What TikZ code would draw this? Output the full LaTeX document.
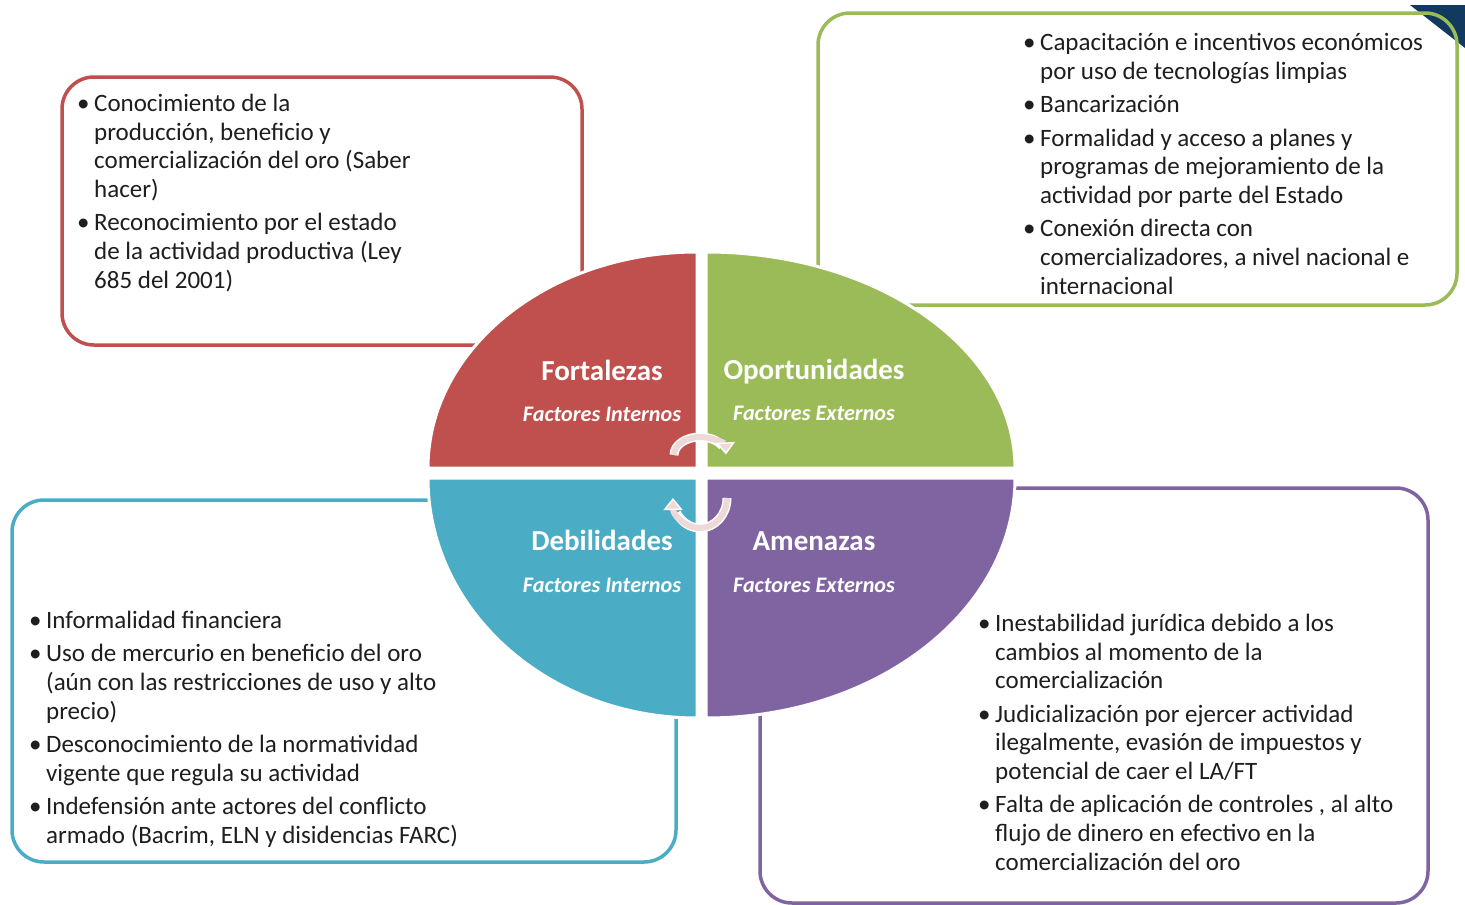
\documentclass[tikz,border=0pt]{standalone}
\usepackage{fontspec}
\setmainfont{Carlito}
\usetikzlibrary{arrows.meta}
\definecolor{cred}{HTML}{C0504D}
\definecolor{cgreen}{HTML}{9BBB59}
\definecolor{cteal}{HTML}{4BACC6}
\definecolor{cpurple}{HTML}{8064A2}
\definecolor{cpink}{HTML}{EFD9D8}
\definecolor{cnavy}{HTML}{123A5F}
\definecolor{ctext}{HTML}{1E1E1E}
\newcommand\bl{\makebox[17pt][l]{•}}
\newcommand\cl{\hspace*{17pt}}
\begin{document}
\begin{tikzpicture}[x=1pt,y=-1pt,
  box/.style={line width=3.5pt, rounded corners=32pt},
  quad/.style={draw=white, line width=3pt},
  bodytext/.style={anchor=base west, align=left, inner sep=0pt, text=ctext,
    font=\fontsize{25}{28.7}\selectfont},
  head/.style={anchor=base, inner sep=0pt, text=white, font=\fontsize{29}{32}\selectfont\bfseries},
  sub/.style={anchor=base, inner sep=0pt, text=white, font=\fontsize{22.2}{24}\selectfont\bfseries\itshape},
  shaft/.style={line width=6pt, cpink},
  shaftbg/.style={line width=9pt, white},
  tipa/.style={-{Triangle[length=12pt,width=19pt,fill=cpink,color=white,line width=1.5pt]}}
]
\useasboundingbox (0,0) rectangle (1465,905);
\fill[white] (0,0) rectangle (1465,905);
\fill[cnavy] (1410,5) -- (1465,5) -- (1465,48) -- cycle;

% text boxes
\draw[box, cred] (62,77) rectangle (582,345);
\draw[box, cgreen] (818,13) rectangle (1457,305);
\draw[box, cteal] (12,500) rectangle (676,862);
\draw[box, cpurple] (760,488) rectangle (1428,903);

% quadrants
\filldraw[quad, fill=cred] (697,468) -- (428,468) arc[start angle=180, end angle=270, x radius=269, y radius=216] -- cycle;
\filldraw[quad, fill=cgreen] (706,468) -- (1015,468) arc[start angle=0, end angle=-90, x radius=309, y radius=216] -- cycle;
\filldraw[quad, fill=cteal] (697,478) -- (428,478) arc[start angle=180, end angle=90, x radius=269, y radius=240] -- cycle;
\filldraw[quad, fill=cpurple] (706,478) -- (1015,478) arc[start angle=0, end angle=90, x radius=309, y radius=240] -- cycle;

% headings
\node[head] (fo) at (602,380) {Fortalezas};
\node[sub] (fos) at (602,421) {Factores Internos};
\node[head] (op) at (814,379) {Oportunidades};
\node[sub] (ops) at (814,420) {Factores Externos};
\node[head] (de) at (602,550) {Debilidades};
\node[sub] (des) at (602,592) {Factores Internos};
\node[head] (am) at (814,550) {Amenazas};
\node[sub] (ams) at (814,592) {Factores Externos};

% cycle arrows
\coordinate (ta) at (674,455);
\coordinate (ba) at (727,498);
\draw[shaftbg] (ta) arc[start angle=180, end angle=330, x radius=26, y radius=18];
\draw[shaft, tipa] (ta) arc[start angle=180, end angle=358, x radius=26, y radius=18];
\draw[shaftbg] (ba) arc[start angle=0, end angle=150, x radius=27, y radius=30];
\draw[shaft, tipa] (ba) arc[start angle=0, end angle=180, x radius=27, y radius=30];

% texts (anchored at the baseline of their last line)
\node[bodytext] (tf) at (77,288) {\bl Conocimiento de la\\
\cl producción, beneficio y\\
\cl comercialización del oro (Saber\\
\cl hacer)\\[4.5pt]
\bl Reconocimiento por el estado\\
\cl de la actividad productiva (Ley\\
\cl 685 del 2001)};

\node[bodytext] (to) at (1023,294) {\bl Capacitación e incentivos económicos\\
\cl por uso de tecnologías limpias\\[4.5pt]
\bl Bancarización\\[4.5pt]
\bl Formalidad y acceso a planes y\\
\cl programas de mejoramiento de la\\
\cl actividad por parte del Estado\\[4.5pt]
\bl Conexión directa con\\
\cl comercializadores, a nivel nacional e\\
\cl internacional};

\node[bodytext] (td) at (29,843) {\bl Informalidad financiera\\[4.5pt]
\bl Uso de mercurio en beneficio del oro\\
\cl (aún con las restricciones de uso y alto\\
\cl precio)\\[4.5pt]
\bl Desconocimiento de la normatividad\\
\cl vigente que regula su actividad\\[4.5pt]
\bl Indefensión ante actores del conflicto\\
\cl armado (Bacrim, ELN y disidencias FARC)};

\node[bodytext] (ta2) at (978,870) {\bl Inestabilidad jurídica debido a los\\
\cl cambios al momento de la\\
\cl comercialización\\[4.5pt]
\bl Judicialización por ejercer actividad\\
\cl ilegalmente, evasión de impuestos y\\
\cl potencial de caer el LA/FT\\[4.5pt]
\bl Falta de aplicación de controles , al alto\\
\cl flujo de dinero en efectivo en la\\
\cl comercialización del oro};
\end{tikzpicture}
\end{document}
